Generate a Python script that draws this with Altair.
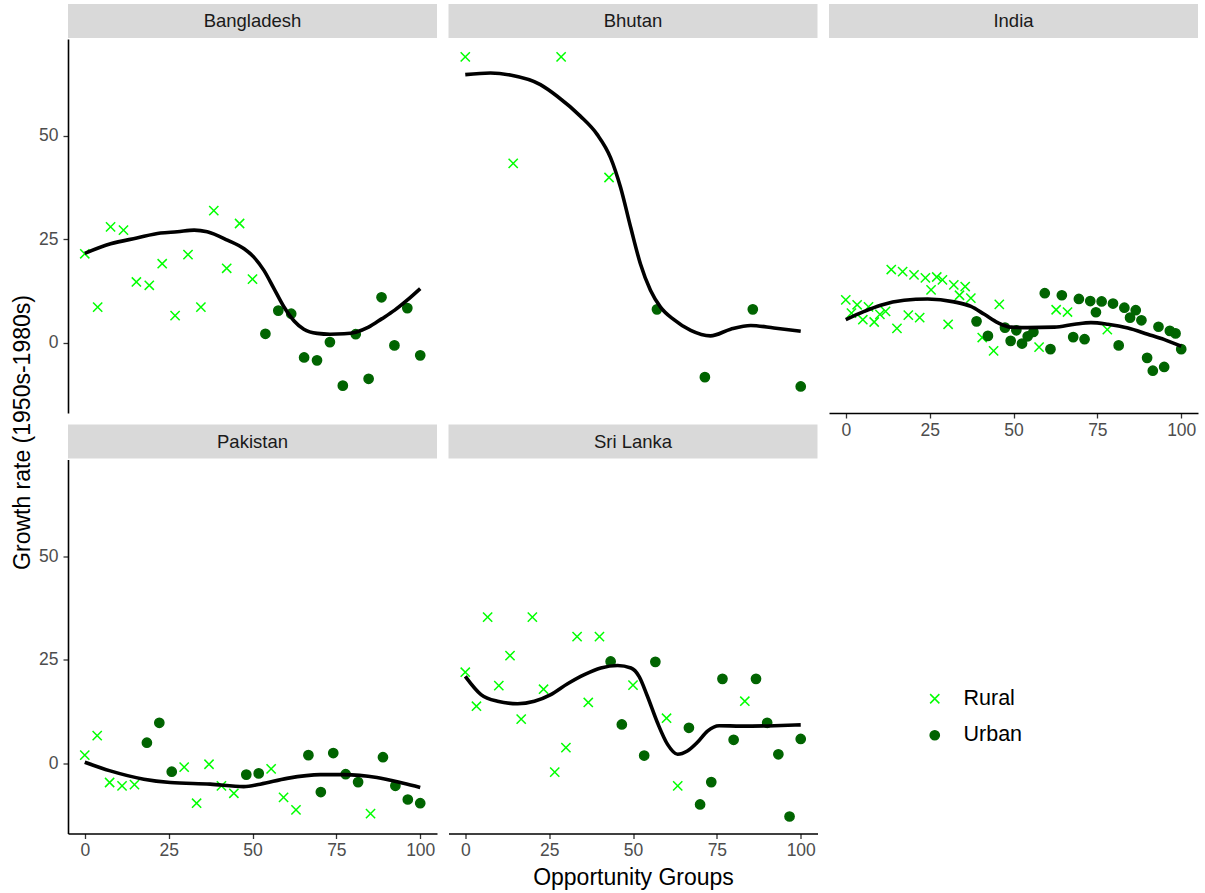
import altair as alt
import pandas as pd

FONT = "Liberation Sans"
RURAL_COLOR = "#00FF00"
URBAN_COLOR = "#006400"
CROSS = "M-1,-1L1,1M1,-1L-1,1"

countries = ["Bangladesh", "Bhutan", "India", "Pakistan", "Sri Lanka"]
x_ticks = [0, 25, 50, 75, 100]
y_ticks = [0, 25, 50]

bgd_growth = [21.5, 8.65, 28.0, 27.2, 14.7, 13.9, 19.1, 6.6, 21.3, 8.65, 31.9, 18.0, 28.8, 15.4,
              2.2, 7.8, 7.05, -3.5, -4.2, 0.2, -10.3, 2.1, -8.65, 11.0, -0.6, 8.4, -3.0]
bgd_area = "RRRRRRRRRRRRRRUUUUUUUUUUUUU"

btn_growth = [69.0, 43.3, 69.0, 39.9, 8.1, -8.25, 8.1, -10.5]
btn_area = "RRRRUUUU"

ind_growth = [10.4, 7.2, 9.2, 5.6, 8.7, 5.05, 6.9, 7.6, 17.7, 3.5, 17.2, 6.7, 16.4, 6.1, 15.7,
              12.8, 15.9, 15.2, 4.5, 14.0, 11.5, 13.6, 10.8, 5.2, 1.3, 1.7, -1.9, 9.3, 3.7, 0.5,
              3.05, -0.15, 1.6, 2.65, -1.0, 12.0, -1.5, 8.0, 11.5, 7.45, 1.4, 10.6, 0.9, 10.1, 7.4,
              10.0, 3.2, 9.5, -0.6, 8.5, 6.1, 7.9, 5.45, -3.6, -6.7, 3.9, -5.8, 2.9, 2.3, -1.5]
ind_area = "RRRRRRRRRRRRRRRRRRRRRRRURURRUUUUUURUURURUUUUUURUUUUUUUUUUUUU"

pak_growth = [2.0, 6.7, -4.6, -5.4, -5.1, 5.0, 9.8, -2.0, -0.9, -9.6, -0.2, -5.4, -7.2, -2.7,
              -2.4, -1.3, -8.2, -11.2, 2.0, -6.9, 2.5, -2.6, -4.5, -12.1, 1.5, -5.4, -8.7, -9.6]
pak_area = "RRRRRUUURRRRRUURRRUUUUURUUUU"

lka_growth = [22.0, 13.8, 35.3, 18.75, 26.0, 10.7, 35.3, 17.9, -2.1, 3.8, 30.6, 14.7, 30.6, 24.6,
              9.4, 18.9, 1.9, 24.5, 10.9, -5.4, 8.6, -9.9, -4.5, 20.4, 5.7, 15.0, 20.4, 9.8, 2.2,
              -12.8, 5.9]
lka_area = "RRRRRRRRRRRRRUURUURRUUUUURUUUUU"

# ---- smoothed curves ----
bgd_cx = [0, 7.7, 15.5, 22.6, 27.6, 32.6, 36.5, 42.5, 47.5, 50.4, 53.4, 56.4, 59.4, 62.4, 65.3,
          69.3, 73.1, 77.3, 80.8, 84.6, 88.5, 92.4, 96.1, 100]
bgd_cy = [21.6, 23.9, 25.3, 26.5, 26.8, 27.2, 26.8, 24.8, 22.7, 20.7, 17.5, 13.1, 8.65, 5.3, 3.3,
          2.3, 2.1, 2.2, 2.6, 3.8, 5.8, 7.9, 10.3, 13.1]

btn_cx = [0, 7.5, 13.4, 22.4, 27.4, 34.3, 39.3, 43.3, 46.3, 49.3, 52.2, 55.2, 58.2, 62.2, 67.2,
          73.1, 79.1, 85.1, 92.0, 100]
btn_cy = [64.7, 65.1, 64.6, 62.3, 59.5, 54.7, 50.3, 44.7, 37.5, 27.9, 19.1, 12.7, 8.65, 5.6, 3.0,
          1.7, 3.3, 4.2, 3.6, 2.8]

ind_cx = [0, 5.5, 10.4, 17.4, 24.4, 32.3, 37.3, 41.3, 45.3, 49.3, 54.2, 62.2, 68.2, 73.1, 78.1,
          84.1, 90.0, 95.0, 100]
ind_cy = [5.6, 7.6, 9.1, 10.3, 10.6, 9.9, 8.8, 6.9, 4.9, 3.8, 3.7, 3.8, 4.5, 4.9, 4.5, 3.6, 2.1,
          0.8, -0.8]

pak_cx = [0, 7.6, 17.6, 25.5, 37.4, 47.4, 52.3, 60.3, 70.2, 77.2, 87.1, 95.0, 100]
pak_cy = [0.3, -1.8, -3.8, -4.6, -5.0, -5.6, -5.0, -3.6, -2.7, -2.7, -3.4, -4.8, -5.8]

lka_cx = [0, 4.7, 9.6, 15.6, 20.6, 25.5, 30.5, 35.5, 40.4, 45.4, 49.4, 51.8, 54.3, 57.3, 60.3,
          63.3, 66.2, 69.2, 72.2, 75.7, 82.1, 92.1, 100]
lka_cy = [21.0, 16.6, 15.0, 14.4, 15.0, 16.6, 19.2, 21.4, 23.0, 23.6, 23.0, 21.0, 16.2, 9.8, 4.6,
          2.2, 3.0, 5.1, 7.8, 9.1, 9.0, 9.1, 9.3]

AREA_NAMES = {"R": "Rural", "U": "Urban"}
W, H = 369, 374


def group_positions(n):
    # opportunity groups are evenly spaced ranks on a 0-100 scale
    return [100.0 * i / (n - 1) for i in range(n)]


def axis_props(**extra):
    base = dict(grid=False, domainColor="black", domainWidth=1.6, tickColor="#333333",
                tickWidth=1.3, tickSize=5, labelFont=FONT, labelFontSize=17.5,
                labelColor="#4D4D4D", titleFont=FONT, titleFontSize=23,
                titleFontWeight="normal", titleColor="black")
    base.update(extra)
    return alt.Axis(**base)


legend = alt.Legend(title=None, orient="none", legendX=856, legendY=649, labelFont=FONT,
                    labelFontSize=21.5, labelColor="black", symbolSize=85,
                    symbolStrokeWidth=1.5, rowPadding=13.5, labelOffset=18)


def panel(name, growth, area, cx, cy, show_x, show_y, x_title=None, y_title=None):
    pts = pd.DataFrame({"group": group_positions(len(growth)), "growth": growth,
                        "area": [AREA_NAMES[a] for a in area]})
    crv = pd.DataFrame({"group": cx, "growth": cy})
    xscale = alt.Scale(domain=[-5, 105], nice=False, zero=False)
    yscale = alt.Scale(domain=[-16.9, 73.3], nice=False, zero=False)

    if show_x:
        xax = axis_props(values=x_ticks, labelPadding=3, titlePadding=7)
        xenc = alt.X("group:Q", scale=xscale, axis=xax, title=x_title)
    else:
        xenc = alt.X("group:Q", scale=xscale, axis=None)
    if show_y:
        if y_title:
            yax = axis_props(values=y_ticks, labelPadding=5, titleX=-46, titleY=393,
                             titleAngle=270, titleBaseline="middle", titleAlign="center")
        else:
            yax = axis_props(values=y_ticks, labelPadding=5)
        yenc = alt.Y("growth:Q", scale=yscale, axis=yax, title=y_title)
    else:
        yenc = alt.Y("growth:Q", scale=yscale, axis=None)

    label = pd.DataFrame({"label": [name]})
    strip = alt.Chart(label).mark_rect(color="#D9D9D9").encode(
        x=alt.value(0), x2=alt.value(W), y=alt.value(-35), y2=alt.value(-1))
    strip_text = alt.Chart(label).mark_text(font=FONT, fontSize=18.5, color="#1A1A1A",
                                            baseline="middle", align="center").encode(
        text="label:N", x=alt.value(W / 2), y=alt.value(-18))

    fscale = alt.Scale(domain=["Rural", "Urban"], range=[RURAL_COLOR, URBAN_COLOR])
    sscale = alt.Scale(domain=["Rural", "Urban"], range=[CROSS, "circle"])
    points = alt.Chart(pts).mark_point(size=85, strokeWidth=1.5, opacity=1, filled=True).encode(
        x=xenc, y=yenc,
        fill=alt.Fill("area:N", scale=fscale, legend=legend),
        stroke=alt.Stroke("area:N", scale=fscale, legend=legend),
        shape=alt.Shape("area:N", scale=sscale, legend=legend),
    )
    curve = alt.Chart(crv).mark_line(color="black", strokeWidth=3.6, interpolate="monotone").encode(
        x=xenc, y=yenc)
    return alt.layer(strip, strip_text, points, curve).properties(width=W, height=H)


p_bgd = panel("Bangladesh", bgd_growth, bgd_area, bgd_cx, bgd_cy, False, True,
              y_title="Growth rate (1950s-1980s)")
p_btn = panel("Bhutan", btn_growth, btn_area, btn_cx, btn_cy, False, False)
p_ind = panel("India", ind_growth, ind_area, ind_cx, ind_cy, True, False)
p_pak = panel("Pakistan", pak_growth, pak_area, pak_cx, pak_cy, True, True)
p_lka = panel("Sri Lanka", lka_growth, lka_area, lka_cx, lka_cy, True, False,
              x_title="Opportunity Groups")

chart = alt.concat(p_bgd, p_btn, p_ind, p_pak, p_lka, columns=3,
                   spacing={"row": 46.5, "column": 11.5}, bounds="flush").properties(
    padding={"left": 10, "top": 3, "right": 5, "bottom": 5},
    background="white",
).configure_view(stroke="transparent")

chart.save("out.html", embed_options={"renderer": "svg", "actions": False})
